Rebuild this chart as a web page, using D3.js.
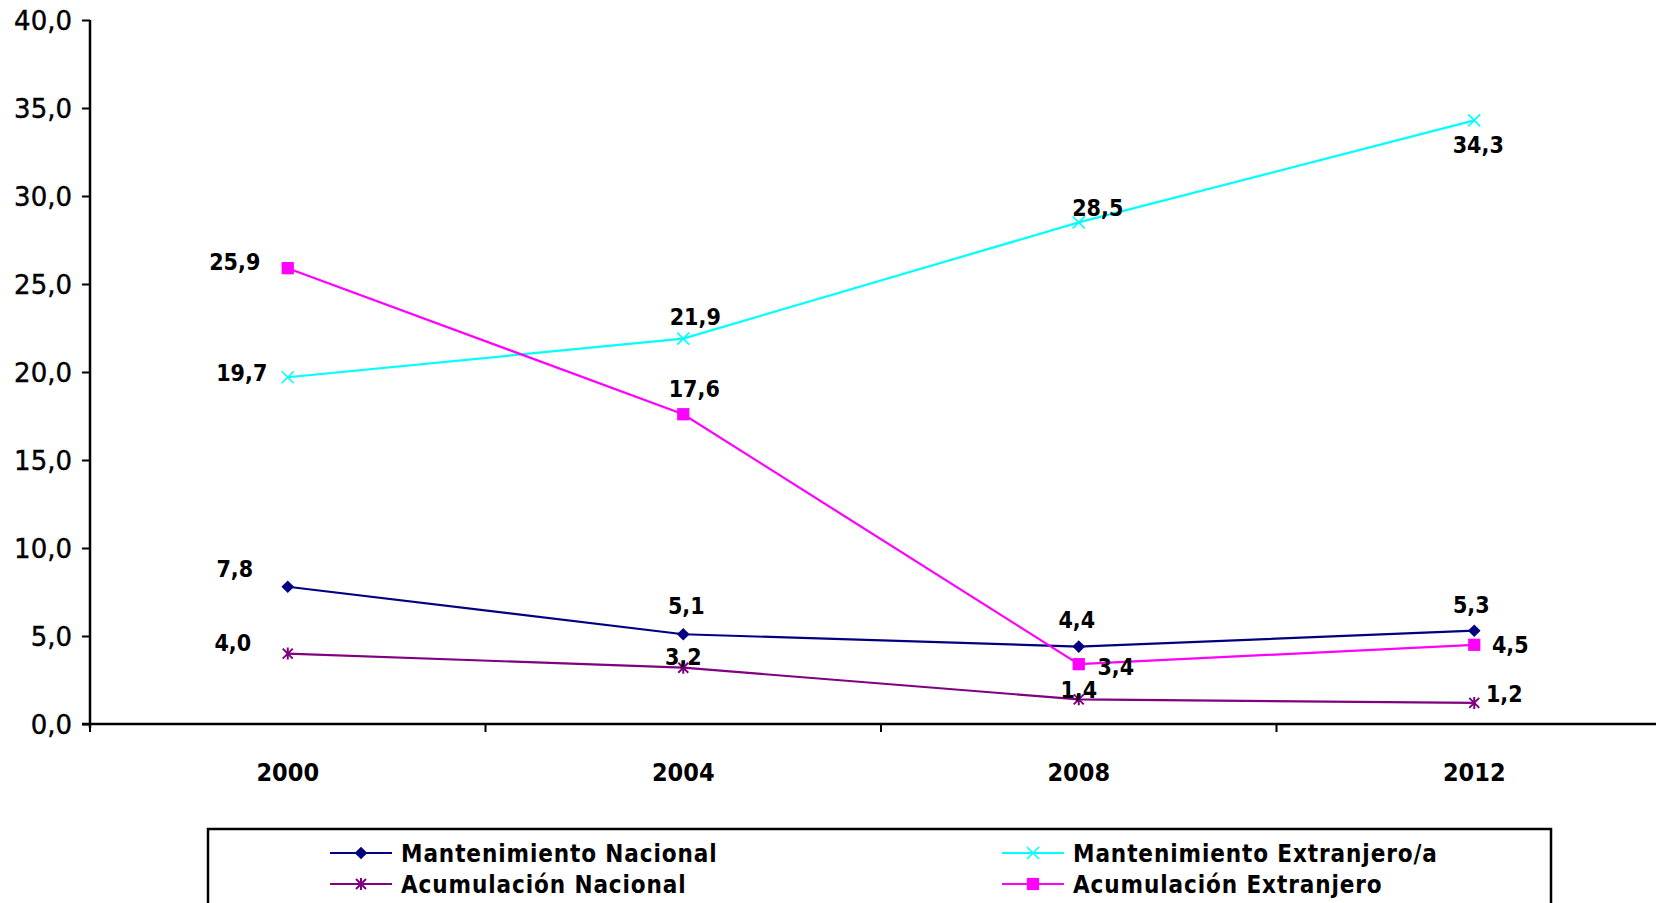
<!DOCTYPE html>
<html>
<head>
<meta charset="utf-8">
<script src="https://cdn.jsdelivr.net/npm/d3@7"></script>
<style>
  html, body { margin: 0; padding: 0; background: #fff; overflow: hidden; }
  svg { display: block; }
  .lab { font-family: "DejaVu Sans Condensed", "DejaVu Sans", sans-serif; font-stretch: condensed; font-weight: bold; fill: #000; }
  .ytick { font-family: "DejaVu Sans", sans-serif; fill: #000; }
  .leg { letter-spacing: 0.9px; }
</style>
</head>
<body>
<svg id="chart" width="1656" height="903"></svg>
<script>
// ---- Data ----
const years = ["2000", "2004", "2008", "2012"];
const yTicks = [0, 5, 10, 15, 20, 25, 30, 35, 40];

const mantenimientoNacional    = [7.8, 5.1, 4.4, 5.3];
const mantenimientoExtranjero  = [19.7, 21.9, 28.5, 34.3];
const acumulacionNacional      = [4.0, 3.2, 1.4, 1.2];
const acumulacionExtranjero    = [25.9, 17.6, 3.4, 4.5];

const seriesNames = ["Mantenimiento Nacional", "Mantenimiento Extranjero/a", "Acumulación Nacional", "Acumulación Extranjero"];

// ---- Styles / label nudges (label centre relative to point) ----
const seriesStyle = [
  { color: "#000080", marker: "diamond" },
  { color: "#00FFFF", marker: "x" },
  { color: "#800080", marker: "star" },
  { color: "#FF00FF", marker: "square" }
];
const labelNudges = [
  [[-53, -18], [3, -29], [-2, -27], [-3, -26]],
  [[-46, -5], [12, -22], [19, -15], [4, 24]],
  [[-55, -11], [0, -11], [0, -10], [30, -9]],
  [[-53, -6], [11, -26], [37, 3], [36, 0]]
];

const seriesValues = [mantenimientoNacional, mantenimientoExtranjero, acumulacionNacional, acumulacionExtranjero];
const fmt = v => d3.format(".1f")(v).replace(".", ",");

const svg = d3.select("#chart");

const x = d3.scaleBand().domain(years).range([90, 90 + 4 * 395.5]).paddingInner(0).paddingOuter(0);
const y = d3.scaleLinear().domain([0, 40]).range([724, 20]);
const cx = d => x(d) + x.bandwidth() / 2;

// ---- Axes ----
const yAxis = d3.axisLeft(y).tickValues(yTicks).tickSize(8).tickPadding(10).tickFormat(fmt);
const gy = svg.append("g").attr("transform", "translate(90,0)").call(yAxis);
gy.select(".domain").attr("stroke", "#000").attr("stroke-width", 2.5).attr("d", "M0,20V728");
gy.selectAll(".tick line").attr("stroke", "#000").attr("stroke-width", 2);
gy.selectAll(".tick text").attr("class", "ytick").attr("font-size", 26).attr("dy", "0.36em")
  .attr("fill", "#000").attr("stroke", "#000").attr("stroke-width", 0.4);

// x axis: ticks at category boundaries
const gx = svg.append("g").attr("transform", `translate(0,${y(0)})`);
gx.append("line").attr("x1", 82).attr("x2", 1656).attr("y1", 0).attr("y2", 0)
  .attr("stroke", "#000").attr("stroke-width", 2.5);
gx.selectAll("line.bt").data(years).enter().append("line").attr("class", "bt")
  .attr("x1", d => x(d)).attr("x2", d => x(d)).attr("y1", 0).attr("y2", 8)
  .attr("stroke", "#000").attr("stroke-width", 2);
gx.selectAll("text").data(years).enter().append("text")
  .attr("class", "lab").attr("font-size", 25)
  .attr("x", d => cx(d)).attr("y", 57).attr("text-anchor", "middle").text(d => d);

// ---- markers ----
function drawMarker(g, type, color) {
  if (type === "diamond") {
    g.append("path").attr("d", d3.symbol().type(d3.symbolSquare).size(80)()).attr("transform", "rotate(45)").attr("fill", color);
  } else if (type === "square") {
    g.append("path").attr("d", d3.symbol().type(d3.symbolSquare).size(150)()).attr("fill", color);
  } else if (type === "x") {
    g.append("path").attr("d", "M-6,-6L6,6M-6,6L6,-6").attr("stroke", color).attr("stroke-width", 1.6).attr("fill", "none");
  } else if (type === "star") {
    g.append("path").attr("d", "M-5,-5L5,5M-5,5L5,-5M0,-6V6").attr("stroke", color).attr("stroke-width", 2).attr("fill", "none");
  }
}

const line = d3.line().x((d, i) => cx(years[i])).y(d => y(d));

seriesValues.forEach((vals, s) => {
  const st = seriesStyle[s];
  svg.append("path").datum(vals).attr("d", line)
    .attr("fill", "none").attr("stroke", st.color).attr("stroke-width", 2.2);
});
seriesValues.forEach((vals, s) => {
  const st = seriesStyle[s];
  vals.forEach((v, i) => {
    const g = svg.append("g").attr("transform", `translate(${cx(years[i])},${y(v)})`);
    drawMarker(g, st.marker, st.color);
  });
});
// labels
seriesValues.forEach((vals, s) => {
  vals.forEach((v, i) => {
    const [dx, dy] = labelNudges[s][i];
    svg.append("text").attr("class", "lab").attr("font-size", 23)
      .attr("x", cx(years[i]) + dx).attr("y", y(v) + dy)
      .attr("dy", "0.36em").attr("text-anchor", "middle").text(fmt(v));
  });
});

// ---- legend ----
const lg = svg.append("g");
lg.append("rect").attr("x", 208).attr("y", 829).attr("width", 1343).attr("height", 120)
  .attr("fill", "#fff").attr("stroke", "#000").attr("stroke-width", 2.5);
const legendPos = [[330, 853], [1002, 853], [330, 884], [1002, 884]];
seriesNames.forEach((name, s) => {
  const [lx, ly] = legendPos[s];
  const st = seriesStyle[s];
  lg.append("line").attr("x1", lx).attr("x2", lx + 62).attr("y1", ly).attr("y2", ly)
    .attr("stroke", st.color).attr("stroke-width", 2);
  const mg = lg.append("g").attr("transform", `translate(${lx + 31},${ly})`);
  drawMarker(mg, st.marker, st.color);
  lg.append("text").attr("class", "lab leg").attr("font-size", 24)
    .attr("x", lx + 71).attr("y", ly).attr("dy", "0.36em").text(name);
});
</script>
</body>
</html>
